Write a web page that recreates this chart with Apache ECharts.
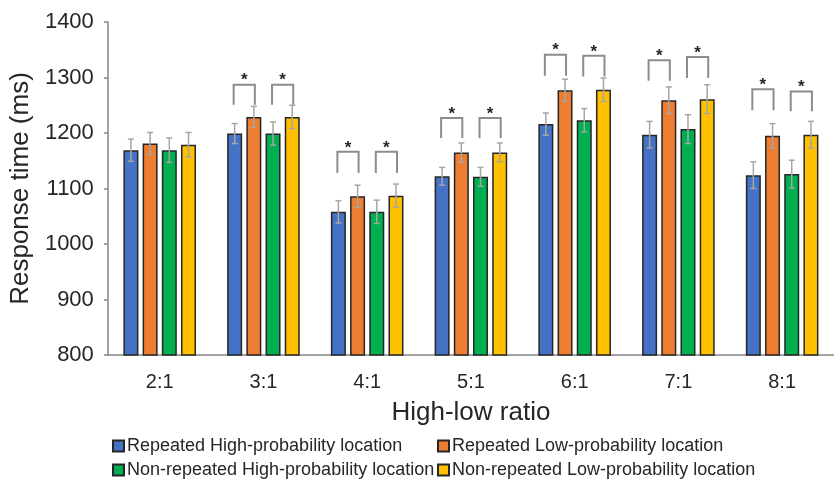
<!DOCTYPE html>
<html>
<head>
<meta charset="utf-8">
<script src="https://cdn.jsdelivr.net/npm/echarts@6/dist/echarts.min.js"></script>
<style>
  html, body { margin: 0; padding: 0; background: #fff; }
  #chart { width: 834px; height: 480px; }
</style>
</head>
<body>
<div id="chart"></div>
<script>
  const ratios = ["2:1", "3:1", "4:1", "5:1", "6:1", "7:1", "8:1"];
  const seriesNames = [
    "Repeated High-probability location",
    "Repeated Low-probability location",
    "Non-repeated High-probability location",
    "Non-repeated Low-probability location"
  ];
  const repHigh = [1169, 1199, 1058, 1122, 1216, 1197, 1124];
  const repLow = [1181, 1229, 1086, 1165, 1277, 1259, 1195];
  const nonRepHigh = [1169, 1199, 1058, 1121, 1223, 1207, 1126];
  const nonRepLow = [1179, 1229, 1087, 1165, 1278, 1261, 1197];
  const repHighErr = [20, 18, 20, 16, 20, 24, 24];
  const repLowErr = [20, 19, 20, 17, 20, 24, 22];
  const nonRepHighErr = [22, 21, 21, 17, 21, 26, 25];
  const nonRepLowErr = [22, 21, 21, 17, 21, 26, 24];
  // significance brackets: [category index, top, leg bottom, pair (0 = bars 1-2, 1 = bars 3-4)]
  const brackets = [
    [1, 1287, 1251, 0], [1, 1287, 1251, 1],
    [2, 1166, 1128, 0], [2, 1166, 1128, 1],
    [3, 1227, 1191, 0], [3, 1227, 1191, 1],
    [4, 1341, 1303, 0], [4, 1339, 1302, 1],
    [5, 1331, 1294, 0], [5, 1337, 1299, 1],
    [6, 1279, 1241, 0], [6, 1275, 1239, 1]
  ];
  const yTicks = [800, 900, 1000, 1100, 1200, 1300, 1400];

  const colors = ["#4472C4", "#ED7D31", "#00B050", "#FFC000"];
  const values = [repHigh, repLow, nonRepHigh, nonRepLow];
  const errors = [repHighErr, repLowErr, nonRepHighErr, nonRepLowErr];
  const barWidth = 15;
  const barGap = 0.28;
  const pitch = barWidth * (1 + barGap);
  const font = "Liberation Sans, Arial, sans-serif";
  const textColor = "#262626";

  function offsetOf(i) {
    return (i - 1.5) * pitch;
  }

  function errorRender(i) {
    return function (params, api) {
      const c = api.value(0);
      const top = api.coord([c, api.value(1) + api.value(2)]);
      const bot = api.coord([c, api.value(1) - api.value(2)]);
      const x = top[0] + offsetOf(i);
      const style = { stroke: "#A6A6A6", lineWidth: 1.5 };
      return {
        type: "group",
        children: [
          { type: "line", shape: { x1: x, y1: top[1], x2: x, y2: bot[1] }, style: style },
          { type: "line", shape: { x1: x - 3, y1: top[1], x2: x + 3, y2: top[1] }, style: style },
          { type: "line", shape: { x1: x - 3, y1: bot[1], x2: x + 3, y2: bot[1] }, style: style }
        ]
      };
    };
  }

  function bracketRender(params, api) {
    const c = api.value(0);
    const pair = api.value(3);
    const top = api.coord([c, api.value(1)]);
    const bot = api.coord([c, api.value(2)]);
    const x1 = top[0] + offsetOf(pair * 2) - 1;
    const x2 = top[0] + offsetOf(pair * 2 + 1) + 1;
    return {
      type: "group",
      children: [
        {
          type: "polyline",
          shape: { points: [[x1, bot[1]], [x1, top[1]], [x2, top[1]], [x2, bot[1]]] },
          style: { stroke: "#8C8C8C", lineWidth: 2, fill: null }
        },
        {
          type: "text",
          x: (x1 + x2) / 2,
          y: top[1] - 4,
          style: {
            text: "*",
            fontSize: 17,
            fontWeight: "bold",
            fontFamily: font,
            fill: textColor,
            align: "center",
            verticalAlign: "middle"
          }
        }
      ]
    };
  }

  const chart = echarts.init(document.getElementById("chart"));

  const series = [];
  values.forEach((vals, i) => {
    series.push({
      name: seriesNames[i],
      type: "bar",
      data: vals,
      barWidth: barWidth,
      barGap: (barGap * 100) + "%",
      itemStyle: {
        color: colors[i],
        borderColor: "#262626",
        borderWidth: 1.5
      }
    });
  });
  errors.forEach((errs, i) => {
    series.push({
      type: "custom",
      z: 5,
      renderItem: errorRender(i),
      data: errs.map((e, c) => [c, values[i][c], e]),
      silent: true
    });
  });
  series.push({
    type: "custom",
    z: 6,
    renderItem: bracketRender,
    data: brackets,
    silent: true
  });

  const legendBase = {
    orient: "horizontal",
    icon: "rect",
    padding: 0,
    itemWidth: 11,
    itemHeight: 11,
    textStyle: { fontFamily: font, fontSize: 18, color: textColor, padding: [0, 0, 0, -2] }
  };

  const option = {
    backgroundColor: "#fff",
    animation: false,
    grid: {
      left: 107,
      right: -9,
      top: 22,
      bottom: 125
    },
    legend: [
      Object.assign({ data: [seriesNames[0]], left: 112, top: 437 }, legendBase),
      Object.assign({ data: [seriesNames[1]], left: 437, top: 437 }, legendBase),
      Object.assign({ data: [seriesNames[2]], left: 112, top: 461 }, legendBase),
      Object.assign({ data: [seriesNames[3]], left: 437, top: 461 }, legendBase)
    ],
    xAxis: {
      type: "category",
      data: ratios,
      name: "High-low ratio",
      nameLocation: "middle",
      nameGap: 45,
      nameTextStyle: { fontFamily: font, fontSize: 26, color: textColor },
      axisLine: { lineStyle: { color: "#868686", width: 1.5 } },
      axisTick: { alignWithLabel: true, length: 5, lineStyle: { color: "#868686", width: 1.5 } },
      axisLabel: { fontFamily: font, fontSize: 20, color: textColor, margin: 17 },
      splitLine: { show: false }
    },
    yAxis: {
      type: "value",
      min: yTicks[0],
      max: yTicks[yTicks.length - 1],
      interval: 100,
      name: "Response time (ms)",
      nameLocation: "middle",
      nameGap: 70,
      nameTextStyle: { fontFamily: font, fontSize: 26, color: textColor },
      axisLine: { show: true, lineStyle: { color: "#868686", width: 1.5 } },
      axisTick: { show: true, length: 4, lineStyle: { color: "#868686", width: 1.5 } },
      axisLabel: {
        fontFamily: font,
        fontSize: 22,
        color: textColor,
        margin: 14,
        formatter: (v) => String(v)
      },
      splitLine: { show: false }
    },
    series: series
  };

  chart.setOption(option);
</script>
</body>
</html>
